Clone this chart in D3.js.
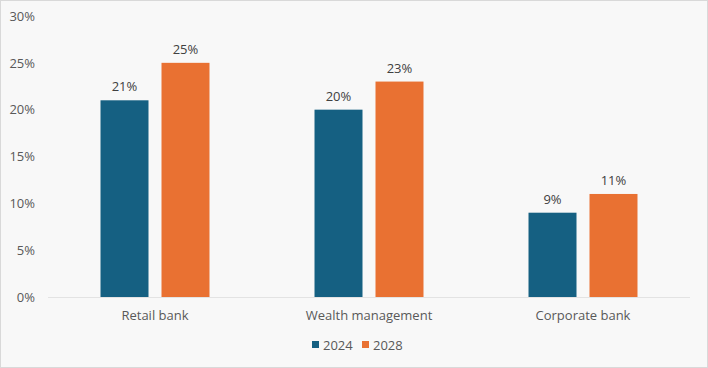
<!DOCTYPE html>
<html><head><meta charset="utf-8">
<script src="https://cdn.jsdelivr.net/npm/d3@7"></script>
<style>
html,body{margin:0;padding:0;background:#fff;}
svg{display:block;font-family:"Open Sans","Liberation Sans",sans-serif;}
</style></head>
<body><svg id="c" width="708" height="368"></svg>
<script>
const categories = ["Retail bank", "Wealth management", "Corporate bank"];
const seriesNames = ["2024", "2028"];
const values2024 = [21, 20, 9];
const values2028 = [25, 23, 11];
const yTicks = [0, 5, 10, 15, 20, 25, 30];
const colors = ["#156082", "#E97132"];

(function(){
const seriesValues = [values2024, values2028];
const svg = d3.select("#c");
const W = 708, H = 368;
svg.append("rect").attr("x",0.5).attr("y",0.5).attr("width",W-1).attr("height",H-1)
  .attr("fill","#f8f8f8").attr("stroke","#d9d9d9");

const mLeft = 48, mRight = 690, mTop = 16, mBottom = 297;
const y = d3.scaleLinear().domain([0,30]).range([mBottom, mTop]);
const x0 = d3.scaleBand().domain(categories).range([mLeft, mRight]).padding(0);
const x1 = d3.scaleBand().domain(seriesNames).range([0, x0.bandwidth()])
  .paddingInner(13/61).paddingOuter(0.861);

const yAxis = d3.axisLeft(y).tickValues(yTicks).tickFormat(d => d + "%").tickSize(0).tickPadding(13);
const ga = svg.append("g").attr("transform", `translate(${mLeft},0)`).call(yAxis);
ga.select(".domain").remove();
ga.selectAll("text").attr("fill","#595959").style("font-size","13px").style("font-family","'Open Sans','Liberation Sans',sans-serif");

svg.append("line").attr("x1",mLeft).attr("x2",mRight).attr("y1",y(0)+0.5).attr("y2",y(0)+0.5)
  .attr("stroke","#e3e3e3").attr("stroke-width",1);

const groups = svg.selectAll("g.grp").data(categories).join("g")
  .attr("class","grp").attr("transform", d => `translate(${x0(d)},0)`);

groups.each(function(cat, ci){
  const g = d3.select(this);
  seriesNames.forEach((s, si) => {
    const v = seriesValues[si][ci];
    g.append("rect").attr("x", x1(s)).attr("width", x1.bandwidth())
      .attr("y", y(v)).attr("height", y(0) - y(v)).attr("fill", colors[si]);
    g.append("text").attr("x", x1(s) + x1.bandwidth()/2).attr("y", y(v) - 9)
      .attr("text-anchor","middle").attr("fill","#404040").style("font-size","13px")
      .text(v + "%");
  });
  g.append("text").attr("x", x0.bandwidth()/2).attr("y", 320)
    .attr("text-anchor","middle").attr("fill","#595959").style("font-size","13px").text(cat);
});

const legendX = [312, 362];
seriesNames.forEach((s, i) => {
  svg.append("rect").attr("x", legendX[i]).attr("y", 341).attr("width", 7).attr("height", 7).attr("fill", colors[i]);
  svg.append("text").attr("x", legendX[i] + 11).attr("y", 350).attr("fill","#595959")
    .style("font-size","13px").text(s);
});
})();
</script></body></html>
